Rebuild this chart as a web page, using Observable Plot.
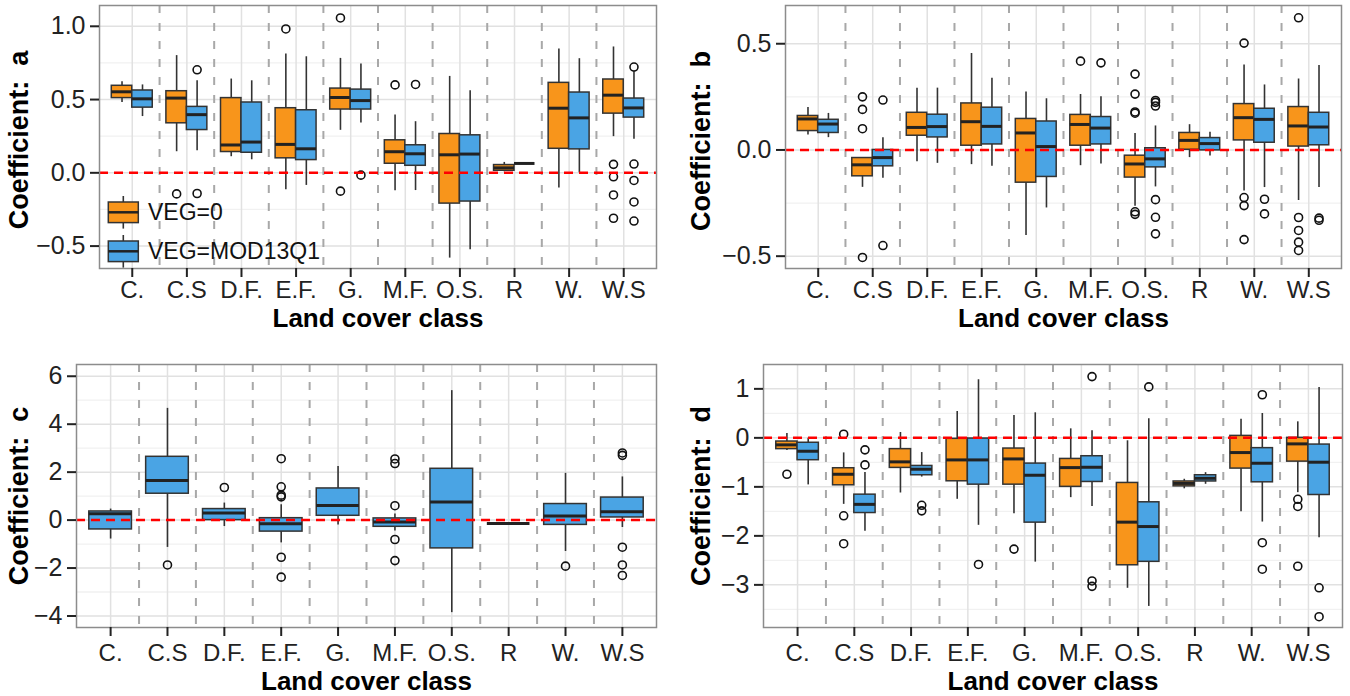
<!DOCTYPE html>
<html><head><meta charset="utf-8">
<script src="https://cdn.jsdelivr.net/npm/d3@7"></script>
<script src="https://cdn.jsdelivr.net/npm/@observablehq/plot@0.6"></script>
<style>
body{margin:0;background:#fff;}
#fig{position:relative;width:1350px;height:696px;background:#fff;overflow:hidden;}
#fig svg{position:absolute;}
</style></head><body><div id="fig"></div>
<script>
const categories = ["C.","C.S","D.F.","E.F.","G.","M.F.","O.S.","R","W.","W.S"];
const groups = ["VEG=0","VEG=MOD13Q1"];
const groupColors = ["#F8951B","#4AA4E4"];

// each row: [lower whisker, Q1, median, Q3, upper whisker]
const aVeg0 = [[0.48,0.51,0.553,0.594,0.621],[0.144,0.338,0.51,0.557,0.80],[0.11,0.142,0.19,0.51,0.64],[-0.116,0.099,0.194,0.441,0.811],[0.29,0.432,0.514,0.575,0.781],[-0.123,0.062,0.144,0.222,0.395],[-0.582,-0.21,0.123,0.265,0.658],[0.007,0.014,0.034,0.053,0.071],[-0.103,0.164,0.441,0.614,0.845],[0.247,0.404,0.53,0.637,0.859]];
const aVeg0Out = [[],[-0.144],[],[0.982],[1.057,-0.125],[0.60],[],[],[],[0.058,-0.027,-0.151,-0.31]];
const aMod = [[0.384,0.445,0.505,0.562,0.60],[0.151,0.292,0.397,0.45,0.628],[0.089,0.137,0.21,0.48,0.628],[-0.086,0.087,0.164,0.427,0.792],[0.34,0.432,0.493,0.568,0.742],[-0.121,0.048,0.13,0.188,0.349],[-0.525,-0.196,0.128,0.256,0.56],[0.064,0.064,0.064,0.064,0.064],[0.0,0.16,0.375,0.548,0.779],[0.229,0.377,0.443,0.507,0.692]];
const aModOut = [[],[0.703,-0.141],[],[],[-0.016],[0.603],[],[],[],[0.722,0.06,-0.052,-0.199,-0.329]];

const bVeg0 = [[0.07,0.089,0.146,0.16,0.20],[-0.176,-0.124,-0.07,-0.038,-0.038],[-0.055,0.067,0.106,0.175,0.291],[-0.069,0.02,0.133,0.219,0.454],[-0.403,-0.154,0.08,0.146,0.273],[-0.074,0.02,0.12,0.165,0.261],[-0.265,-0.13,-0.066,-0.027,0.078],[-0.036,0.001,0.045,0.08,0.119],[-0.193,0.045,0.152,0.216,0.40],[-0.238,0.016,0.113,0.202,0.334]];
const bVeg0Out = [[],[0.25,0.191,0.1,-0.506],[],[],[],[0.418],[0.357,0.263,0.179,0.173,-0.291,-0.303],[],[0.503,-0.224,-0.262,-0.422],[0.622,-0.318,-0.379,-0.434,-0.473]];
const bMod = [[0.058,0.08,0.122,0.142,0.172],[-0.133,-0.077,-0.036,0.0,0.058],[-0.063,0.059,0.11,0.166,0.291],[-0.077,0.026,0.111,0.199,0.338],[-0.273,-0.127,0.016,0.134,0.241],[-0.066,0.026,0.103,0.155,0.25],[-0.174,-0.082,-0.042,0.008,0.113],[-0.028,-0.002,0.03,0.056,0.083],[-0.177,0.034,0.144,0.194,0.306],[-0.177,0.022,0.108,0.175,0.398]];
const bModOut = [[],[0.235,-0.45],[],[],[],[0.41],[0.233,0.224,0.207,-0.234,-0.317,-0.395],[],[-0.232,-0.301],[-0.321,-0.331]];

const cMod = [[-0.79,-0.39,0.26,0.36,0.46],[-1.14,1.10,1.65,2.64,4.66],[-0.27,0.0,0.30,0.46,0.71],[-0.95,-0.48,-0.15,0.08,0.64],[-0.2,0.18,0.61,1.32,2.24],[-0.46,-0.28,-0.08,0.07,0.25],[-3.86,-1.18,0.75,2.14,5.4],[-0.14,-0.14,-0.14,-0.14,-0.14],[-1.31,-0.2,0.17,0.67,1.95],[-0.31,0.11,0.35,0.94,1.80]];
const cModOut = [[],[-1.87],[1.36],[2.56,1.39,1.04,0.97,-1.55,-2.38],[],[2.55,2.36,0.6,-0.81,-1.69],[],[],[-1.92],[2.80,2.70,-1.13,-1.87,-2.31]];

const dVeg0 = [[-0.26,-0.23,-0.143,-0.075,0.088],[-1.357,-0.968,-0.743,-0.62,-0.307],[-1.125,-0.613,-0.49,-0.23,0.109],[-1.254,-0.886,-0.45,-0.02,0.538],[-1.548,-0.955,-0.43,-0.218,0.456],[-1.22,-1.0,-0.607,-0.43,0.184],[-3.07,-2.60,-1.72,-0.92,-0.06],[-1.04,-0.99,-0.93,-0.89,-0.845],[-1.507,-0.627,-0.30,0.04,0.38],[-1.118,-0.485,-0.123,0.0,0.327]];
const dVeg0Out = [[-0.743],[0.075,-1.59,-2.16],[],[],[-2.27],[],[],[],[],[-1.254,-1.40,-2.62]];
const dMod = [[-0.96,-0.456,-0.273,-0.10,-0.007],[-1.908,-1.534,-1.357,-1.159,-0.709],[-0.80,-0.763,-0.64,-0.573,-0.30],[-1.785,-0.955,-0.45,-0.014,1.186],[-2.536,-1.73,-0.763,-0.525,0.511],[-1.40,-0.90,-0.60,-0.375,0.143],[-3.44,-2.53,-1.81,-1.315,0.39],[-0.948,-0.89,-0.825,-0.763,-0.71],[-1.718,-0.907,-0.518,-0.21,0.497],[-2.04,-1.166,-0.497,-0.137,1.03]];
const dModOut = [[],[-0.245,-0.552],[-1.376,-1.49],[-2.583],[],[1.25,-2.92,-3.03],[1.04],[],[0.88,-2.14,-2.68],[-3.06,-3.65]];

const yTicksA = [-0.5,0,0.5,1.0], yMinorA = [-0.25,0.25,0.75];
const yTicksB = [-0.5,0,0.5],     yMinorB = [-0.25,0.25];
const yTicksC = [-4,-2,0,2,4,6],  yMinorC = [-3,-1,1,3,5];
const yTicksD = [-3,-2,-1,0,1],   yMinorD = [-3.5,-2.5,-1.5,-0.5,0.5];
const yDomainA = [-0.653,1.142], yDomainB = [-0.558,0.68], yDomainC = [-4.48,6.49], yDomainD = [-3.87,1.497];

const FONT = '"Liberation Sans", Arial, sans-serif';
const xPositions = categories.map((_, i) => i + 1);
const separators = categories.slice(1).map((_, i) => i + 1.5);

function boxRows(stats, outs, g, nGroups) {
  const half = 0.375;
  const boxes = stats.map((s, i) => {
    const pos = i + 1;
    const x1 = nGroups === 2 ? pos - half + g * half : pos - half;
    const x2 = nGroups === 2 ? x1 + half : pos + half;
    return {cat: categories[i], x1, x2, xc: (x1 + x2) / 2, lo: s[0], q1: s[1], med: s[2], q3: s[3], hi: s[4]};
  });
  const points = outs.flatMap((o, i) => o.map(v => ({cat: categories[i], xc: boxes[i].xc, v})));
  return {boxes, points};
}

function panel(o) {
  const series = o.series;
  const marks = [
    Plot.ruleY(o.yMinor, {stroke: "#F1F1F1", strokeWidth: 1.3}),
    Plot.ruleY(o.yTicks, {stroke: "#E1E1E1", strokeWidth: 1.5}),
    Plot.ruleX(xPositions, {stroke: "#E1E1E1", strokeWidth: 1.5}),
    Plot.ruleX(separators, {stroke: "#A8A8A8", strokeWidth: 2, strokeDasharray: "8,10"}),
  ];
  series.forEach(s => {
    marks.push(
      Plot.ruleX(s.boxes, {x: "xc", y1: "lo", y2: "hi", stroke: "#333", strokeWidth: 1.6}),
      Plot.rect(s.boxes, {x1: "x1", x2: "x2", y1: "q1", y2: "q3", fill: s.color, stroke: "#333", strokeWidth: 1.5}),
      Plot.ruleY(s.boxes, {y: "med", x1: "x1", x2: "x2", stroke: "#222", strokeWidth: 3}),
      Plot.dot(s.points, {x: "xc", y: "v", r: 4, stroke: "#111", strokeWidth: 1.6, fill: "none"})
    );
  });
  marks.push(
    Plot.ruleY([0], {stroke: "#FF0000", strokeWidth: 2.5, strokeDasharray: "9,6"}),
    Plot.frame({stroke: "#8C8C8C", strokeWidth: 1.5}),
    Plot.axisX(xPositions, {tickSize: 9, tickPadding: o.xPad, tickFormat: i => categories[i - 1], fontSize: 24, color: "#222", strokeWidth: 2, label: null}),
    Plot.axisY(o.yTicks, {tickSize: 9, tickPadding: 5, tickFormat: o.fmt, fontSize: 25, color: "#222", strokeWidth: 2, label: null}),
    Plot.text(["Land cover class"], {text: d => d, frameAnchor: "bottom", lineAnchor: "middle", textAnchor: "middle", dy: o.xTitleDy, fontSize: 26, fontWeight: "bold", fill: "#000"}),
    Plot.text(["Coefficient:\u00a0 " + o.letter], {text: d => d, frameAnchor: "left", rotate: -90, lineAnchor: "middle", textAnchor: "middle", dx: o.yTitleDx, dy: o.yTitleDy, fontSize: 27, fontWeight: "bold", fill: "#000"})
  );
  const svg = Plot.plot({
    width: o.width, height: o.height,
    marginLeft: o.m[0], marginRight: o.m[1], marginTop: o.m[2], marginBottom: o.m[3],
    x: {domain: [0.4, 10.6]},
    y: {domain: o.yDomain},
    style: {fontFamily: FONT, fontSize: "24px", color: "#222", background: "transparent", overflow: "visible"},
    marks
  });
  svg.style.left = o.left + "px";
  svg.style.top = o.top + "px";
  document.getElementById("fig").appendChild(svg);
}

const f1 = d3.format(".1f"), f0 = d3.format("d");

panel({series: [{...boxRows(aVeg0, aVeg0Out, 0, 2), color: groupColors[0]}, {...boxRows(aMod, aModOut, 1, 2), color: groupColors[1]}],
  yDomain: yDomainA, yTicks: yTicksA, yMinor: yMinorA, fmt: f1, letter: "a",
  left: 0, top: 0, width: 670, height: 340, m: [99, 14, 5, 72], xPad: 3, xTitleDy: 50.2, yTitleDx: -80, yTitleDy: 3});
panel({series: [{...boxRows(bVeg0, bVeg0Out, 0, 2), color: groupColors[0]}, {...boxRows(bMod, bModOut, 1, 2), color: groupColors[1]}],
  yDomain: yDomainB, yTicks: yTicksB, yMinor: yMinorB, fmt: f1, letter: "b",
  left: 675, top: 0, width: 675, height: 340, m: [110, 9, 5, 72], xPad: 3, xTitleDy: 50.2, yTitleDx: -84, yTitleDy: 4});
panel({series: [{...boxRows(cMod, cModOut, 0, 1), color: groupColors[1]}],
  yDomain: yDomainC, yTicks: yTicksC, yMinor: yMinorC, fmt: f0, letter: "c",
  left: 0, top: 340, width: 670, height: 356, m: [76, 14, 24, 69], xPad: 7, xTitleDy: 54.2, yTitleDx: -57, yTitleDy: 0});
panel({series: [{...boxRows(dVeg0, dVeg0Out, 0, 2), color: groupColors[0]}, {...boxRows(dMod, dModOut, 1, 2), color: groupColors[1]}],
  yDomain: yDomainD, yTicks: yTicksD, yMinor: yMinorD, fmt: f0, letter: "d",
  left: 675, top: 340, width: 675, height: 356, m: [88, 8, 24, 69], xPad: 7, xTitleDy: 54.2, yTitleDx: -62, yTitleDy: 0});

// legend inside panel a
const leg = d3.select("#fig").append("svg").attr("width", 330).attr("height", 80)
  .style("left", "100px").style("top", "190px");
groups.forEach((g, i) => {
  const top = 12 + i * 39;
  const gg = leg.append("g");
  gg.append("line").attr("x1", 23.3).attr("x2", 23.3).attr("y1", top - 6).attr("y2", top + 26.6).attr("stroke", "#333").attr("stroke-width", 1.6);
  gg.append("rect").attr("x", 8.3).attr("y", top).attr("width", 30).attr("height", 20.6).attr("fill", groupColors[i]).attr("stroke", "#333").attr("stroke-width", 1.5);
  gg.append("line").attr("x1", 8.3).attr("x2", 38.3).attr("y1", top + 10.3).attr("y2", top + 10.3).attr("stroke", "#222").attr("stroke-width", 2.5);
  gg.append("text").attr("x", 48).attr("y", top + 10.3).attr("dy", "0.35em").attr("font-family", FONT).attr("font-size", 23).attr("fill", "#111").text(g);
});
</script></body></html>
